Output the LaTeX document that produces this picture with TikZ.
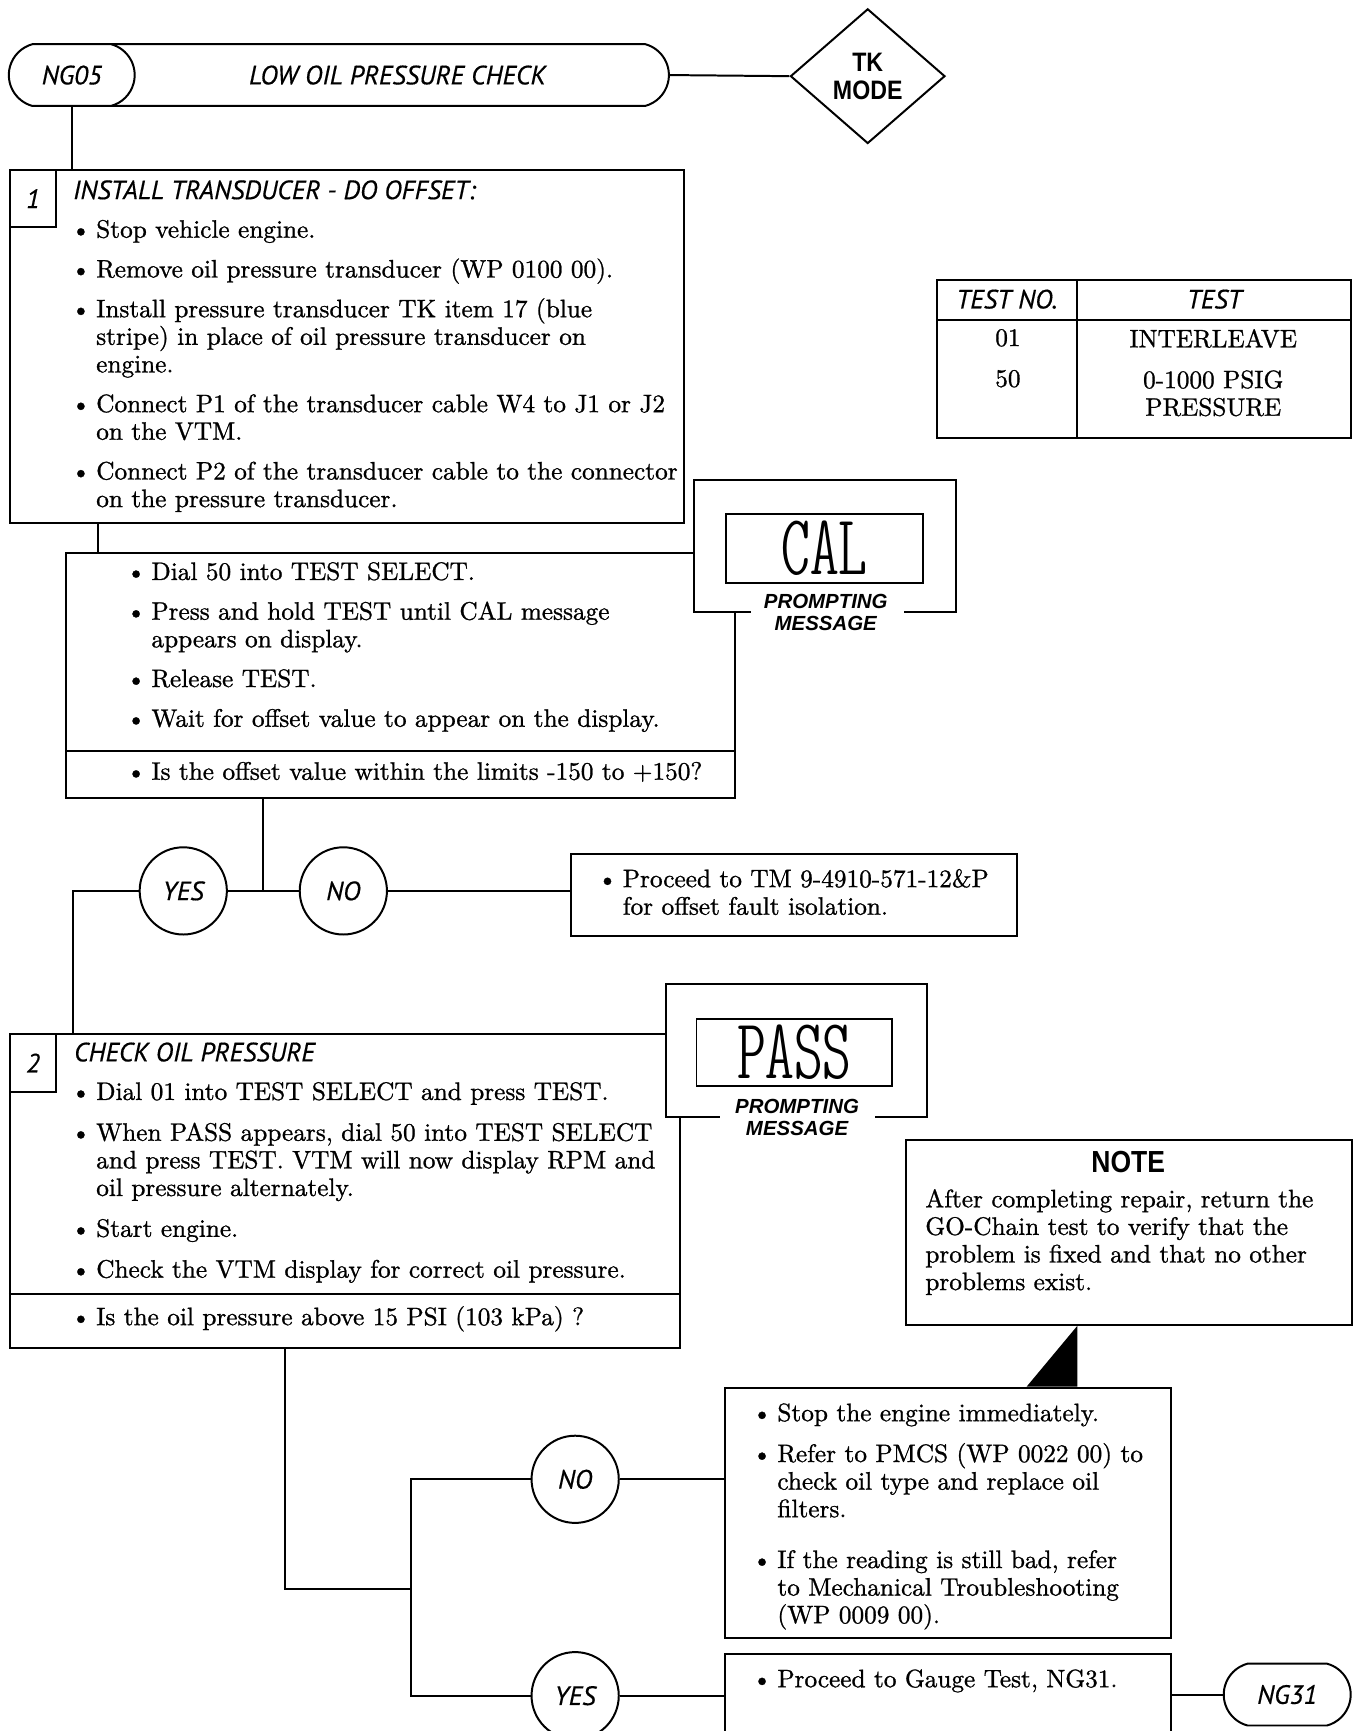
\documentclass[tikz,border=0pt]{standalone}
\usepackage{fontspec}
\usepackage{graphicx}
\newfontfamily\bodyfont{lmroman10-regular.otf}[FakeBold=1.0]
\newfontfamily\hdfont{PT Sans}[FakeBold=0.5]
\newfontfamily\boldsans{Liberation Sans}
\newfontfamily\lcdfont{lmmonoltcond10-regular.otf}
\usetikzlibrary{shapes.geometric,shapes.misc}

\newcommand{\bt}{\llap{\textbullet\hspace{5pt}}}
\newcommand{\bodysize}{\bodyfont\fontsize{22.9}{25}\selectfont}
\newcommand{\tall}[1]{\scalebox{1}[1.15]{#1}}

\tikzset{
  link/.style={line width=1.8pt},
  box/.style={draw, line width=1.8pt, rectangle, anchor=north west, inner sep=0pt},
  txt/.style={anchor=north west, inner sep=0pt, align=left, font=\bodysize},
  head/.style={inner sep=0pt, font=\hdfont\itshape\fontsize{24}{26}\selectfont},
  tab/.style={box, minimum width=42pt, minimum height=52pt, font=\hdfont\itshape\fontsize{24}{26}\selectfont},
  capsule/.style={draw, line width=1.8pt, rounded rectangle, rounded rectangle arc length=150,
    minimum height=56pt, inner sep=0pt, fill=white, font=\hdfont\itshape\fontsize{24}{26}\selectfont},
  answer/.style={draw, circle, line width=1.8pt, minimum size=79pt,
    inner sep=0pt, fill=white, font=\hdfont\itshape\fontsize{24}{26}\selectfont},
  lcd/.style={box, font=\lcdfont\fontsize{74}{74}\selectfont},
  prompt/.style={inner sep=0pt, align=center, font=\boldsans\bfseries\itshape\fontsize{18.5}{20}\selectfont},
  frame/.style={box, draw=none, fill=white}
}

\begin{document}
\begin{tikzpicture}[x=1pt, y=-1pt]
\useasboundingbox (0,0) rectangle (1227,1568);

% Header
\node[capsule, minimum width=545pt, anchor=west] (title) at (60,68) {};
\node[head] (titletxt) at (360,68) {LOW OIL PRESSURE CHECK};
\node[capsule, minimum width=114pt] (ng05) at (65,68) {NG05};
\node[draw, diamond, line width=1.8pt, minimum width=140pt, minimum height=122pt, inner sep=0pt,
  align=center, font=\boldsans\bfseries\fontsize{21}{25}\selectfont] (tk) at (786,69) {\tall{TK}\\\tall{MODE}};
\draw[link] (title.east) -- (tk.west);

% Test table
\draw[link] (849,254) rectangle (1224,397);
\draw[link] (976,254) -- (976,397);
\draw[link] (849,290) -- (1224,290);
\node[head] (thno) at (912,271) {TEST NO.};
\node[head] (thtest) at (1100,271) {TEST};
\node[txt, anchor=north] (tno) at (913,298) {01\\[12pt]50};
\node[txt, anchor=north, align=center] (ttest) at (1099,298) {INTERLEAVE\\[12pt]0-1000 PSIG\\PRESSURE};

% Step 1
\node[box, minimum width=611pt, minimum height=320pt] (s1) at (8,153) {};
\node[tab] (n1) at (8,153) {1};
\node[head, anchor=west] (h1) at (66,172) {INSTALL TRANSDUCER - DO OFFSET:};
\node[txt] (t1) at (87,199) {\bt Stop vehicle engine.\\[11pt]
\bt Remove oil pressure transducer (WP 0100 00).\\[11pt]
\bt Install pressure transducer TK item 17 (blue\\ stripe) in place of oil pressure transducer on\\ engine.\\[11pt]
\bt Connect P1 of the transducer cable W4 to J1 or J2\\ on the VTM.\\[11pt]
\bt Connect P2 of the transducer cable to the connector\\ on the pressure transducer.};
\draw[link] (ng05.south) -- (ng05.south |- s1.north);

\node[box, minimum width=606pt, minimum height=222pt] (s1b) at (59,500) {};
\draw[link] (s1b.west |- 0,680) -- (s1b.east |- 0,680);
\node[txt] (t1b) at (137,509) {\bt Dial 50 into TEST SELECT.\\[11pt]
\bt Press and hold TEST until CAL message\\ appears on display.\\[11pt]
\bt Release TEST.\\[11pt]
\bt Wait for offset value to appear on the display.};
\node[txt] (q1) at (137,690) {\bt Is the offset value within the limits -150 to +150?};
\draw[link] ([xshift=81pt]s1.south west) -- ([xshift=30pt]s1b.north west);

% CAL message
\node[frame, minimum width=235pt, minimum height=118pt] (calfr) at (629,435) {};
\draw[link] ([xshift=51pt]calfr.south west) -| (calfr.north west) -| (calfr.south east) -- ([xshift=-47pt]calfr.south east);
\node[lcd, minimum width=178pt, minimum height=62pt] (cal) at (657,465) {\scalebox{1}[1.05]{CAL}};
\node[prompt] (calmsg) at (748,555) {PROMPTING\\MESSAGE};

% Step 1 answers
\coordinate (j1) at (238,807);
\node[answer] (yes1) at (166,807) {YES};
\node[answer] (no1) at (311,807) {NO};
\node[box, minimum width=404pt, minimum height=74pt] (off) at (516,773) {};
\node[txt] (toff) at (564,787) {\bt Proceed to TM 9-4910-571-12\&P\\ for offset fault isolation.};
\draw[link] ([xshift=179pt]s1b.south west) -- (j1);
\draw[link] (yes1) -- (no1);
\draw[link] (no1.east) -- (no1.east -| off.west);

% Step 2
\node[box, minimum width=607pt, minimum height=284pt] (s2) at (8,936) {};
\node[tab] (n2) at (8,936) {2};
\node[head, anchor=west] (h2) at (67,953) {CHECK OIL PRESSURE};
\node[txt] (t2) at (87,980) {\bt Dial 01 into TEST SELECT and press TEST.\\[12pt]
\bt When PASS appears, dial 50 into TEST SELECT\\ and press TEST. VTM will now display RPM and\\ oil pressure alternately.\\[12pt]
\bt Start engine.\\[12pt]
\bt Check the VTM display for correct oil pressure.};
\draw[link] (s2.west |- 0,1172) -- (s2.east |- 0,1172);
\node[txt] (q2) at (87,1183) {\bt Is the oil pressure above 15 PSI (103 kPa) ?};
\draw[link] (yes1.west) -| ([xshift=58pt]s2.north west);

% PASS message
\node[frame, minimum width=235pt, minimum height=119pt] (passfr) at (603,891) {};
\draw[link] ([xshift=49pt]passfr.south west) -| (passfr.north west) -| (passfr.south east) -- ([xshift=-47pt]passfr.south east);
\node[lcd, minimum width=177pt, minimum height=61pt] (pass) at (630,922) {\scalebox{1}[1.05]{PASS}};
\node[prompt] (passmsg) at (722,1012) {PROMPTING\\MESSAGE};

% Note
\node[box, minimum width=404pt, minimum height=167pt] (note) at (820,1032) {};
\node[inner sep=0pt, font=\boldsans\bfseries\fontsize{24}{26}\selectfont] (notehd) at (1022,1053) {\tall{NOTE}};
\node[txt] (tnote) at (838,1077) {After completing repair, return the\\ GO-Chain test to verify that the\\ problem is fixed and that no other\\ problems exist.};

% Step 2 answers
\coordinate (j2) at (372,1439);
\node[answer] (no2) at (521,1340) {NO};
\node[answer] (yes2) at (521,1536) {YES};
\node[box, minimum width=404pt, minimum height=227pt] (nobox) at (656,1256) {};
\node[txt] (tnobox) at (704,1271) {\bt Stop the engine immediately.\\[12pt]
\bt Refer to PMCS (WP 0022 00) to\\ check oil type and replace oil\\ filters.\\[21pt]
\bt If the reading is still bad, refer\\ to Mechanical Troubleshooting\\ (WP 0009 00).};
\node[box, minimum width=404pt, minimum height=120pt] (yesbox) at (656,1497) {};
\node[txt] (tyesbox) at (704,1512) {\bt Proceed to Gauge Test, NG31.};
\node[capsule, minimum width=115pt] (ng31) at (1166,1535) {NG31};
\fill ([xshift=156pt]note.south west) -- ([xshift=320pt]nobox.north west) -- ([xshift=274pt]nobox.north west) -- cycle;
\draw[link] ([xshift=250pt]s2.south west) |- (j2);
\draw[link] (no2.west) -| (j2) |- (yes2.west);
\draw[link] (no2.east) -- (no2.east -| nobox.west);
\draw[link] (yes2.east) -- (yes2.east -| yesbox.west);
\draw[link] (ng31.west -| yesbox.east) -- (ng31.west);

\end{tikzpicture}
\end{document}
